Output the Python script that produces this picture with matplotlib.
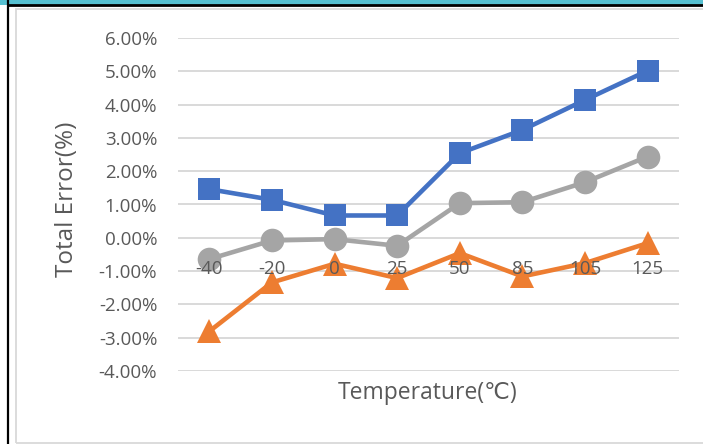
import matplotlib
matplotlib.use("Agg")
import matplotlib.pyplot as plt
from matplotlib.lines import Line2D
from matplotlib.patches import Rectangle
from matplotlib.ticker import FuncFormatter

# Temperature points (°C) and measured total error (%) for three units
temperatures = ["-40", "-20", "0", "25", "50", "85", "105", "125"]
series_max = [1.46, 1.14, 0.67, 0.67, 2.54, 3.24, 4.14, 5.02]
series_min = [-2.81, -1.34, -0.78, -1.21, -0.46, -1.16, -0.76, -0.16]
series_typ = [-0.64, -0.08, -0.04, -0.24, 1.04, 1.07, 1.67, 2.44]
y_ticks = [6, 5, 4, 3, 2, 1, 0, -1, -2, -3, -4]

W, H = 703, 444
fig = plt.figure(figsize=(W / 100, H / 100), dpi=100)
fig.patch.set_facecolor("white")

# sheet decorations around the chart object
fig.add_artist(Rectangle((0, 1 - 5 / H), 1, 5 / H, transform=fig.transFigure,
                         facecolor="#55BFD0", edgecolor="none", zorder=0))
fig.add_artist(Line2D([8 / W, 1], [1 - 5.5 / H, 1 - 5.5 / H], transform=fig.transFigure,
                      color="black", lw=2.0))
fig.add_artist(Line2D([8 / W, 8 / W], [0, 1], transform=fig.transFigure,
                      color="black", lw=1.6))
fig.add_artist(Rectangle((15.5 / W, 1 / H), (W + 10) / W, (H - 10) / H,
                         transform=fig.transFigure, facecolor="none",
                         edgecolor="#D9D9D9", lw=1.3))

ax = fig.add_axes([178 / W, 1 - 371 / H, (679 - 178) / W, (371 - 38) / H])
x = list(range(len(temperatures)))

ax.plot(x, series_min, color="#ED7D31", lw=3.3, marker="^", markersize=17,
        markeredgewidth=0, solid_capstyle="round", zorder=3)
ax.plot(x, series_typ, color="#A5A5A5", lw=3.3, marker="o", markersize=17,
        markeredgewidth=0, solid_capstyle="round", zorder=3)
ax.plot(x, series_max, color="#4472C4", lw=3.3, marker="s", markersize=16,
        markeredgewidth=0, solid_capstyle="round", zorder=4)

ax.set_xlim(-0.5, len(temperatures) - 0.5)
ax.set_ylim(-4, 6)
ax.set_yticks(y_ticks)
ax.yaxis.set_major_formatter(FuncFormatter(lambda v, p: f"{v:.2f}%"))
ax.set_xticks(x)
ax.set_xticklabels([])

ax.grid(axis="y", color="#D9D9D9", lw=1.4)
ax.set_axisbelow(True)
for s in ax.spines.values():
    s.set_visible(False)

font = ["Open Sans", "DejaVu Sans"]
tick_size = 13.5
ax.tick_params(axis="y", length=0, pad=15, labelsize=tick_size, labelcolor="#595959")
ax.tick_params(axis="x", length=0)
for lbl in ax.get_yticklabels():
    lbl.set_family(font)

# category labels sit just under the zero line, drawn over the series
for xi, t in zip(x, temperatures):
    ax.annotate(t, xy=(xi, 0), xytext=(0, -22.5), textcoords="offset points",
                ha="center", va="center", fontsize=tick_size, color="#595959",
                family=font, zorder=6, annotation_clip=False)

fig.text(67 / W, 1 - 199 / H, "Total Error(%)", rotation=90, ha="center", va="center",
         fontsize=17.5, color="#595959", family=font)
fig.text(428 / W, 1 - 393 / H, "Temperature(℃)", ha="center", va="center",
         fontsize=16.5, color="#595959", family=font)

fig.savefig("out.png", dpi=100, facecolor="white")
